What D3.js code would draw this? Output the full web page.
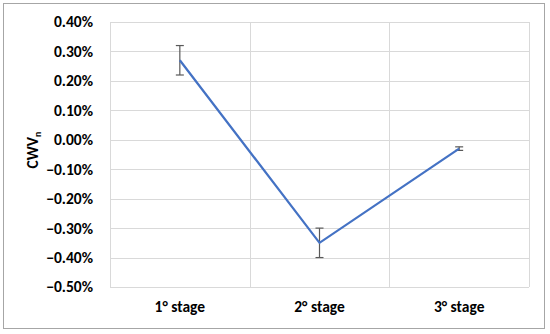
<!DOCTYPE html>
<meta charset="utf-8">
<script src="https://d3js.org/d3.v7.min.js"></script>
<style>
body { margin: 0; background: #fff; }
text { font-family: Carlito, "Liberation Sans", Arial, sans-serif; font-weight: bold; fill: #000; }
.grid line { stroke: #d9d9d9; stroke-width: 1; }
.axis path, .axis line { stroke: none; }
</style>
<body>
<script>

var stages = ["1° stage", "2° stage", "3° stage"]
var cwv = [0.27, -0.35, -0.03]
var errs = [0.05, 0.05, 0.006]
var yTicks = [0.4, 0.3, 0.2, 0.1, 0, -0.1, -0.2, -0.3, -0.4, -0.5]

var W = 550, H = 334
var margin = {top: 22, right: 21, bottom: 47, left: 110}
var width = W - margin.left - margin.right,
    height = H - margin.top - margin.bottom

var svg = d3.select("body").append("svg")
  .attr("width", W)
  .attr("height", H)

// outer frame
svg.append("rect")
  .attr("x", 3.5).attr("y", 3.5)
  .attr("width", 541).attr("height", 325)
  .attr("fill", "#fff")
  .attr("stroke", "#a6a6a6")

var g = svg.append("g")
  .attr("transform", "translate(" + margin.left + "," + margin.top + ")")

var x = d3.scaleBand().domain(stages).range([0, width])
var y = d3.scaleLinear().domain([-0.5, 0.4]).range([height, 0])

// horizontal grid
g.append("g").attr("class", "grid")
  .selectAll("line").data(yTicks).enter().append("line")
  .attr("x1", 0).attr("x2", width)
  .attr("y1", function(d) { return Math.round(y(d)) + 0.5 })
  .attr("y2", function(d) { return Math.round(y(d)) + 0.5 })

// vertical grid at category boundaries
var bounds = [0].concat(stages.map(function(d) { return x(d) + x.bandwidth() }))
g.append("g").attr("class", "grid")
  .selectAll("line").data(bounds).enter().append("line")
  .attr("x1", function(d) { return Math.round(d) + 0.5 })
  .attr("x2", function(d) { return Math.round(d) + 0.5 })
  .attr("y1", 0).attr("y2", height)

var fmt = function(d) { return d3.format(".2f")(d) + "%" }

var yAxis = d3.axisLeft(y).tickValues(yTicks).tickFormat(fmt).tickSize(0).tickPadding(17)
g.append("g").attr("class", "axis y")
  .call(yAxis)
  .selectAll("text").style("font-size", "15.5px")

var xAxis = d3.axisBottom(x).tickSize(0).tickPadding(14)
g.append("g").attr("class", "axis x")
  .attr("transform", "translate(0," + height + ")")
  .call(xAxis)
  .selectAll("text").style("font-size", "15.5px")

// y title
var yt = svg.append("text")
  .attr("transform", "translate(38," + 150 + ") rotate(-90)")
  .attr("text-anchor", "middle")
  .style("font-size", "15.5px")
yt.append("tspan").text("CWV")
yt.append("tspan").attr("dy", 3).style("font-size", "10px").text("n")

var data = stages.map(function(s, i) { return {stage: s, v: cwv[i], e: errs[i]} })
var cx = function(d) { return x(d.stage) + x.bandwidth() / 2 }

// error bars
var eb = g.selectAll(".err").data(data).enter().append("g").attr("class", "err")
  .attr("stroke", "#595959").attr("stroke-width", 1.2)
eb.append("line")
  .attr("x1", cx).attr("x2", cx)
  .attr("y1", function(d) { return y(d.v + d.e) })
  .attr("y2", function(d) { return y(d.v - d.e) })
eb.append("line")
  .attr("x1", function(d) { return cx(d) - 4 }).attr("x2", function(d) { return cx(d) + 4 })
  .attr("y1", function(d) { return y(d.v + d.e) }).attr("y2", function(d) { return y(d.v + d.e) })
eb.append("line")
  .attr("x1", function(d) { return cx(d) - 4 }).attr("x2", function(d) { return cx(d) + 4 })
  .attr("y1", function(d) { return y(d.v - d.e) }).attr("y2", function(d) { return y(d.v - d.e) })

var line = d3.line().x(cx).y(function(d) { return y(d.v) })
g.append("path")
  .attr("d", line(data))
  .attr("fill", "none")
  .attr("stroke", "#4472c4")
  .attr("stroke-width", 2.25)

</script>
</body>
